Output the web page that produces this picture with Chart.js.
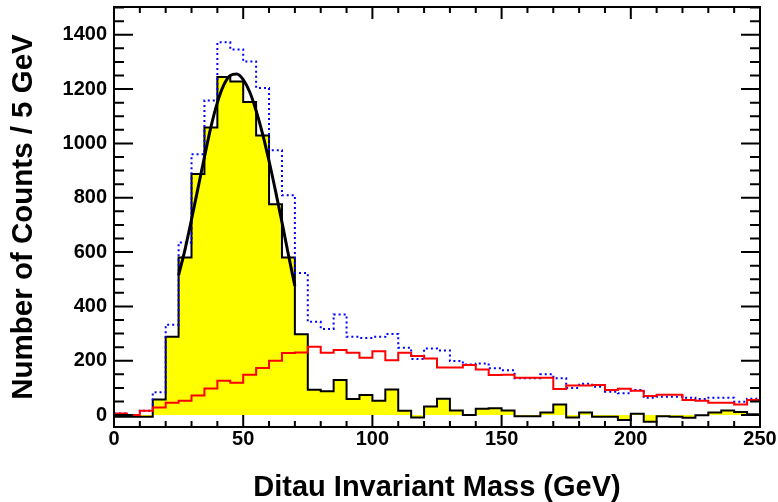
<!DOCTYPE html>
<html>
<head>
<meta charset="utf-8">
<style>
  html, body { margin: 0; padding: 0; background: #fff; }
  canvas { display: block; }
</style>
<script src="https://cdn.jsdelivr.net/npm/chart.js@4/dist/chart.umd.min.js"></script>
</head>
<body>
<canvas id="ditauChart" width="778" height="502"></canvas>
<script>
// Bordes inferiores de los bins (5 GeV cada uno)
const binEdges = [0, 5, 10, 15, 20, 25, 30, 35, 40, 45, 50, 55, 60, 65, 70, 75, 80, 85, 90, 95,
  100, 105, 110, 115, 120, 125, 130, 135, 140, 145, 150, 155, 160, 165, 170, 175, 180, 185, 190, 195,
  200, 205, 210, 215, 220, 225, 230, 235, 240, 245, 250];

// Histograma negro relleno de amarillo
const signalCounts = [-6, -6, -6, 57, 288, 580, 887, 1058, 1244, 1228,
  1152, 1029, 776, 580, 297, 93, 88, 129, 59, 74,
  53, 94, 16, -9, 31, 60, 17, 0, 23, 25,
  17, -4, -4, 9, 39, -9, 9, -6, -6, -18,
  5, -25, -4, -6, -10, -1, 9, 17, 11, 3];

// Histograma rojo
const backgroundCounts = [6, 0, 16, 28, 45, 53, 72, 98, 126, 119,
  148, 173, 200, 228, 230, 251, 229, 239, 229, 211,
  235, 202, 229, 217, 208, 175, 175, 184, 168, 147,
  148, 137, 137, 137, 96, 109, 109, 111, 92, 97,
  89, 70, 75, 75, 55, 53, 45, 45, 39, 55];

// Histograma azul punteado
const totalCounts = [6, 0, 16, 84, 332, 635, 960, 1158, 1372, 1346,
  1301, 1204, 975, 809, 523, 343, 317, 370, 288, 284,
  288, 298, 248, 206, 245, 238, 199, 186, 190, 172,
  165, 135, 135, 150, 135, 100, 115, 104, 86, 80,
  92, 64, 67, 67, 64, 59, 64, 64, 49, 60];

// Curva del ajuste
const fitMass = [25, 27.5, 30, 32.5, 35, 37.5, 40, 42.5, 45, 47.5, 50, 52.5, 55, 57.5, 60, 62.5, 65, 67.5, 70];
const fitCounts = [515, 610, 720, 835, 950, 1060, 1150, 1215, 1250, 1255, 1235, 1190, 1120, 1035, 935, 825, 710, 590, 475];

// Etiquetas de los ejes
const xTickLabels = [0, 50, 100, 150, 200, 250];
const yTickLabels = [0, 200, 400, 600, 800, 1000, 1200, 1400];

// Convierte un histograma en puntos escalonados
function toSteps(values) {
  const pts = values.map((v, i) => ({ x: binEdges[i], y: v }));
  pts.push({ x: binEdges[values.length], y: values[values.length - 1] });
  return pts;
}

const fam = "'Liberation Sans', Arial, sans-serif";
const labelFont = { family: fam, size: 20, weight: "bold" };

// Marco y marcas hacia dentro, estilo ROOT
const frameTicks = {
  id: "frameTicks",
  afterDatasetsDraw(chart) {
    const { ctx, chartArea: a, scales: { x, y } } = chart;
    ctx.save();
    ctx.strokeStyle = "#000";
    ctx.lineWidth = 2;
    ctx.beginPath();
    for (let v = 0; v <= 250; v += 10) {
      const px = x.getPixelForValue(v);
      const len = v % 50 === 0 ? 12 : 6;
      ctx.moveTo(px, a.bottom); ctx.lineTo(px, a.bottom - len);
      ctx.moveTo(px, a.top); ctx.lineTo(px, a.top + len);
    }
    for (let v = 0; v <= 1500; v += 50) {
      const py = y.getPixelForValue(v);
      const len = v % 200 === 0 ? 19 : 10;
      ctx.moveTo(a.left, py); ctx.lineTo(a.left + len, py);
      ctx.moveTo(a.right, py); ctx.lineTo(a.right - len, py);
    }
    ctx.stroke();
    ctx.strokeRect(a.left, a.top, a.right - a.left, a.bottom - a.top);
    ctx.restore();
  }
};

const ctx = document.getElementById("ditauChart").getContext("2d");

new Chart(ctx, {
  type: "line",
  data: {
    datasets: [
      {
        data: toSteps(signalCounts),
        stepped: true,
        borderColor: "#000",
        borderWidth: 2,
        backgroundColor: "#ffff00",
        fill: "origin",
        pointRadius: 0,
        order: 4,
      },
      {
        data: toSteps(totalCounts),
        stepped: true,
        borderColor: "#0000ff",
        borderWidth: 2,
        borderDash: [2, 3],
        fill: false,
        pointRadius: 0,
        order: 3,
      },
      {
        data: toSteps(backgroundCounts),
        stepped: true,
        borderColor: "#ff0000",
        borderWidth: 2,
        fill: false,
        pointRadius: 0,
        order: 2,
      },
      {
        data: fitMass.map((m, i) => ({ x: m, y: fitCounts[i] })),
        borderColor: "#000",
        borderWidth: 3,
        tension: 0.4,
        cubicInterpolationMode: "monotone",
        fill: false,
        pointRadius: 0,
        order: 1,
      },
    ],
  },
  options: {
    responsive: false,
    devicePixelRatio: 1,
    animation: false,
    layout: { padding: { top: 7, right: 18, left: 0, bottom: 0 } },
    plugins: { legend: { display: false }, tooltip: { enabled: false } },
    scales: {
      x: {
        type: "linear",
        min: 0,
        max: 250,
        grid: { display: false, drawTicks: false },
        border: { display: false },
        afterBuildTicks: (s) => { s.ticks = xTickLabels.map((v) => ({ value: v })); },
        afterFit: (s) => { s.height = 75; s.paddingLeft = 0; s.paddingRight = 0; },
        ticks: { font: labelFont, color: "#000", padding: 0, maxRotation: 0, callback: (v) => String(v) },
        title: {
          display: true,
          text: "Ditau Invariant Mass (GeV)",
          font: { family: fam, size: 29, weight: "bold", lineHeight: 1 },
          color: "#000",
          padding: { top: 0, bottom: 0 },
        },
      },
      y: {
        type: "linear",
        min: -44,
        max: 1502,
        grid: { display: false, drawTicks: false },
        border: { display: false },
        afterBuildTicks: (s) => { s.ticks = yTickLabels.map((v) => ({ value: v })); },
        afterFit: (s) => { s.width = 114; s.paddingTop = 0; s.paddingBottom = 0; },
        ticks: { font: labelFont, color: "#000", padding: 7, callback: (v) => String(v) },
        title: {
          display: true,
          text: "Number of Counts / 5 GeV",
          font: { family: fam, size: 29.5, weight: "bold", lineHeight: 1 },
          color: "#000",
          padding: { top: 9, bottom: 0 },
        },
      },
    },
  },
  plugins: [frameTicks],
});
</script>
</body>
</html>
